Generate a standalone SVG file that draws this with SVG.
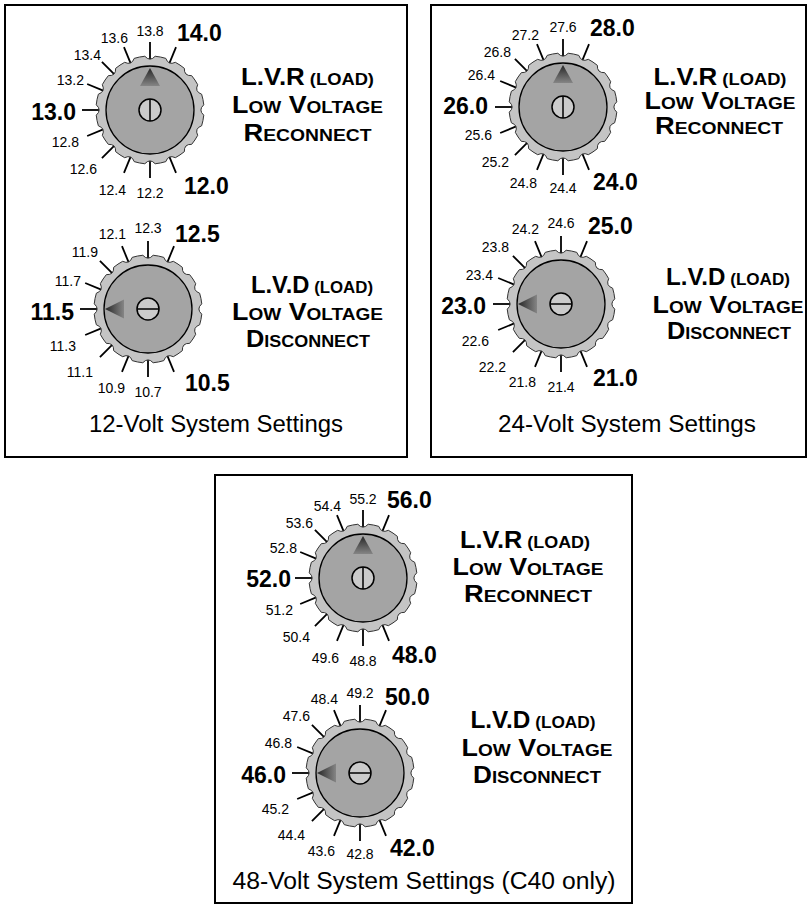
<svg xmlns="http://www.w3.org/2000/svg" xmlns:xlink="http://www.w3.org/1999/xlink" width="811" height="906" viewBox="0 0 811 906">
<style>
.panel{fill:#fff;stroke:#000;stroke-width:2}
.sm{font-family:"Liberation Sans",Arial,sans-serif;font-size:14px;fill:#000}
.bg{font-family:"Liberation Sans",Arial,sans-serif;font-size:23px;font-weight:bold;fill:#000}
.cap{font-family:"Liberation Sans",Arial,sans-serif;font-size:23.5px;fill:#000}
.ttl{font-family:"Liberation Sans",Arial,sans-serif;font-size:24px;font-weight:bold;fill:#000;text-anchor:middle}
.s{font-size:17px}
.e{text-anchor:end}
.m{text-anchor:middle}
.tick{stroke:#000;stroke-width:1.8;fill:none}
.gear{fill:#c4c4c4;stroke:#333;stroke-width:1}
.disk{fill:#a4a4a4;stroke:#000;stroke-width:1.3}
.screw{fill:#cbcbcb;stroke:#000;stroke-width:1.5}
.slot{stroke:#000;stroke-width:1.5}
</style>
<defs>
<linearGradient id="gUp" x1="0" y1="0" x2="0" y2="1"><stop offset="0" stop-color="#262626"/><stop offset="1" stop-color="#858585"/></linearGradient>
<linearGradient id="gLeft" x1="0" y1="0" x2="1" y2="0"><stop offset="0" stop-color="#262626"/><stop offset="1" stop-color="#858585"/></linearGradient>
<g id="ticks" class="tick">
<line x1="19.13" y1="-46.19" x2="26.02" y2="-62.82"/>
<line x1="0" y1="-50" x2="0" y2="-68"/>
<line x1="-19.13" y1="-46.19" x2="-26.02" y2="-62.82"/>
<line x1="-35.36" y1="-35.36" x2="-48.08" y2="-48.08"/>
<line x1="-46.19" y1="-19.13" x2="-62.82" y2="-26.02"/>
<line x1="-50" y1="0" x2="-68" y2="0"/>
<line x1="-46.19" y1="19.13" x2="-62.82" y2="26.02"/>
<line x1="-35.36" y1="35.36" x2="-48.08" y2="48.08"/>
<line x1="-19.13" y1="46.19" x2="-26.02" y2="62.82"/>
<line x1="0" y1="50" x2="0" y2="68"/>
<line x1="19.13" y1="46.19" x2="26.02" y2="62.82"/>
</g>
<g id="face">
<path class="gear" d="M5.18,-53.75 A54,54 0 0 1 15.79,-51.64 Q18.37,-44.35 25.35,-47.68 A54,54 0 0 1 34.35,-41.67 Q33.94,-33.94 41.67,-34.35 A54,54 0 0 1 47.68,-25.35 Q44.35,-18.37 51.64,-15.79 A54,54 0 0 1 53.75,-5.18 Q48,0 53.75,5.18 A54,54 0 0 1 51.64,15.79 Q44.35,18.37 47.68,25.35 A54,54 0 0 1 41.67,34.35 Q33.94,33.94 34.35,41.67 A54,54 0 0 1 25.35,47.68 Q18.37,44.35 15.79,51.64 A54,54 0 0 1 5.18,53.75 Q0,48 -5.18,53.75 A54,54 0 0 1 -15.79,51.64 Q-18.37,44.35 -25.35,47.68 A54,54 0 0 1 -34.35,41.67 Q-33.94,33.94 -41.67,34.35 A54,54 0 0 1 -47.68,25.35 Q-44.35,18.37 -51.64,15.79 A54,54 0 0 1 -53.75,5.18 Q-48,0 -53.75,-5.18 A54,54 0 0 1 -51.64,-15.79 Q-44.35,-18.37 -47.68,-25.35 A54,54 0 0 1 -41.67,-34.35 Q-33.94,-33.94 -34.35,-41.67 A54,54 0 0 1 -25.35,-47.68 Q-18.37,-44.35 -15.79,-51.64 A54,54 0 0 1 -5.18,-53.75 Q0,-48 5.18,-53.75 Z"/>
<circle class="disk" r="44"/>
</g>
<g id="lvrknob">
<use href="#ticks"/>
<use href="#face"/>
<polygon points="0,-42 -10,-24 10,-24" fill="url(#gUp)"/>
<circle class="screw" r="11"/>
<line class="slot" x1="0" y1="-11" x2="0" y2="11"/>
</g>
<g id="lvdknob">
<use href="#ticks"/>
<use href="#face"/>
<polygon points="-43,0 -24,-9.5 -24,9.5" fill="url(#gLeft)"/>
<circle class="screw" r="11"/>
<line class="slot" x1="-11" y1="0" x2="11" y2="0"/>
</g>
</defs>
<rect width="811" height="906" fill="#fff"/>

<g id="panel-12v">
<rect class="panel" x="5" y="5" width="402" height="452"/>
<g id="dial-12v-lvr" transform="translate(150,110)">
<use href="#lvrknob"/>
<text class="bg" x="27" y="-69">14.0</text>
<text class="sm m" x="0" y="-74">13.8</text>
<text class="sm e" x="-22" y="-67">13.6</text>
<text class="sm e" x="-49" y="-50">13.4</text>
<text class="sm e" x="-66" y="-25">13.2</text>
<text class="bg e" x="-74" y="10">13.0</text>
<text class="sm e" x="-71" y="37">12.8</text>
<text class="sm e" x="-53" y="64">12.6</text>
<text class="sm e" x="-24" y="85">12.4</text>
<text class="sm m" x="0" y="88">12.2</text>
<text class="bg" x="34" y="84">12.0</text>
</g>
<g id="label-12v-lvr">
<text class="ttl" x="307.5" y="85" textLength="133" lengthAdjust="spacingAndGlyphs">L.V.R<tspan class="s"> (LOAD)</tspan></text>
<text class="ttl" x="307.5" y="113" textLength="151" lengthAdjust="spacingAndGlyphs">L<tspan class="s">OW</tspan> V<tspan class="s">OLTAGE</tspan></text>
<text class="ttl" x="307.5" y="141" textLength="128" lengthAdjust="spacingAndGlyphs">R<tspan class="s">ECONNECT</tspan></text>
</g>
<g id="dial-12v-lvd" transform="translate(148,309)">
<use href="#lvdknob"/>
<text class="bg" x="27" y="-67">12.5</text>
<text class="sm m" x="0" y="-76">12.3</text>
<text class="sm e" x="-22" y="-70">12.1</text>
<text class="sm e" x="-50" y="-52">11.9</text>
<text class="sm e" x="-67" y="-23">11.7</text>
<text class="bg e" x="-74" y="11">11.5</text>
<text class="sm e" x="-72" y="42">11.3</text>
<text class="sm e" x="-55" y="68">11.1</text>
<text class="sm e" x="-23" y="84">10.9</text>
<text class="sm m" x="0" y="88">10.7</text>
<text class="bg" x="37" y="82">10.5</text>
</g>
<g id="label-12v-lvd">
<text class="ttl" x="312" y="293" textLength="122" lengthAdjust="spacingAndGlyphs">L.V.D<tspan class="s"> (LOAD)</tspan></text>
<text class="ttl" x="307.5" y="320" textLength="151" lengthAdjust="spacingAndGlyphs">L<tspan class="s">OW</tspan> V<tspan class="s">OLTAGE</tspan></text>
<text class="ttl" x="308" y="347" textLength="124" lengthAdjust="spacingAndGlyphs">D<tspan class="s">ISCONNECT</tspan></text>
</g>
<text class="cap m" x="216" y="432" textLength="254" lengthAdjust="spacingAndGlyphs">12-Volt System Settings</text>
</g>

<g id="panel-24v">
<rect class="panel" x="431" y="5" width="375" height="452"/>
<g id="dial-24v-lvr" transform="translate(563,107)">
<use href="#lvrknob"/>
<text class="bg" x="27" y="-71">28.0</text>
<text class="sm m" x="0" y="-75">27.6</text>
<text class="sm e" x="-24" y="-67">27.2</text>
<text class="sm e" x="-52" y="-50">26.8</text>
<text class="sm e" x="-68" y="-27">26.4</text>
<text class="bg e" x="-75" y="7">26.0</text>
<text class="sm e" x="-71" y="33">25.6</text>
<text class="sm e" x="-54" y="60">25.2</text>
<text class="sm e" x="-26" y="81">24.8</text>
<text class="sm m" x="0" y="86">24.4</text>
<text class="bg" x="30" y="83">24.0</text>
</g>
<g id="label-24v-lvr">
<text class="ttl" x="720" y="85" textLength="133" lengthAdjust="spacingAndGlyphs">L.V.R<tspan class="s"> (LOAD)</tspan></text>
<text class="ttl" x="720" y="109" textLength="151" lengthAdjust="spacingAndGlyphs">L<tspan class="s">OW</tspan> V<tspan class="s">OLTAGE</tspan></text>
<text class="ttl" x="719" y="134" textLength="128" lengthAdjust="spacingAndGlyphs">R<tspan class="s">ECONNECT</tspan></text>
</g>
<g id="dial-24v-lvd" transform="translate(561,304)">
<use href="#lvdknob"/>
<text class="bg" x="27" y="-70">25.0</text>
<text class="sm m" x="0" y="-76">24.6</text>
<text class="sm e" x="-22" y="-70">24.2</text>
<text class="sm e" x="-52" y="-52">23.8</text>
<text class="sm e" x="-68" y="-24">23.4</text>
<text class="bg e" x="-75" y="10">23.0</text>
<text class="sm e" x="-72" y="42">22.6</text>
<text class="sm e" x="-55" y="68">22.2</text>
<text class="sm e" x="-25" y="83">21.8</text>
<text class="sm m" x="0" y="88">21.4</text>
<text class="bg" x="32" y="82">21.0</text>
</g>
<g id="label-24v-lvd">
<text class="ttl" x="728" y="285" textLength="124" lengthAdjust="spacingAndGlyphs">L.V.D<tspan class="s"> (LOAD)</tspan></text>
<text class="ttl" x="728" y="313" textLength="151" lengthAdjust="spacingAndGlyphs">L<tspan class="s">OW</tspan> V<tspan class="s">OLTAGE</tspan></text>
<text class="ttl" x="729" y="339" textLength="124" lengthAdjust="spacingAndGlyphs">D<tspan class="s">ISCONNECT</tspan></text>
</g>
<text class="cap m" x="627" y="432" textLength="258" lengthAdjust="spacingAndGlyphs">24-Volt System Settings</text>
</g>

<g id="panel-48v">
<rect class="panel" x="215" y="475" width="417" height="428"/>
<g id="dial-48v-lvr" transform="translate(363,578)">
<use href="#lvrknob"/>
<text class="bg" x="24" y="-70">56.0</text>
<text class="sm m" x="0" y="-74">55.2</text>
<text class="sm e" x="-22" y="-67">54.4</text>
<text class="sm e" x="-50" y="-50">53.6</text>
<text class="sm e" x="-66" y="-25">52.8</text>
<text class="bg e" x="-72" y="9">52.0</text>
<text class="sm e" x="-70" y="37">51.2</text>
<text class="sm e" x="-53" y="64">50.4</text>
<text class="sm e" x="-24" y="85">49.6</text>
<text class="sm m" x="0" y="88">48.8</text>
<text class="bg" x="29" y="85">48.0</text>
</g>
<g id="label-48v-lvr">
<text class="ttl" x="525" y="548" textLength="130" lengthAdjust="spacingAndGlyphs">L.V.R<tspan class="s"> (LOAD)</tspan></text>
<text class="ttl" x="528" y="575" textLength="151" lengthAdjust="spacingAndGlyphs">L<tspan class="s">OW</tspan> V<tspan class="s">OLTAGE</tspan></text>
<text class="ttl" x="528" y="602" textLength="128" lengthAdjust="spacingAndGlyphs">R<tspan class="s">ECONNECT</tspan></text>
</g>
<g id="dial-48v-lvd" transform="translate(360,773)">
<use href="#lvdknob"/>
<text class="bg" x="25" y="-68">50.0</text>
<text class="sm m" x="0" y="-75">49.2</text>
<text class="sm e" x="-22" y="-69">48.4</text>
<text class="sm e" x="-50" y="-52">47.6</text>
<text class="sm e" x="-68" y="-25">46.8</text>
<text class="bg e" x="-74" y="10">46.0</text>
<text class="sm e" x="-71" y="41">45.2</text>
<text class="sm e" x="-55" y="67">44.4</text>
<text class="sm e" x="-25" y="83">43.6</text>
<text class="sm m" x="0" y="86">42.8</text>
<text class="bg" x="30" y="83">42.0</text>
</g>
<g id="label-48v-lvd">
<text class="ttl" x="533" y="728" textLength="125" lengthAdjust="spacingAndGlyphs">L.V.D<tspan class="s"> (LOAD)</tspan></text>
<text class="ttl" x="537" y="756" textLength="151" lengthAdjust="spacingAndGlyphs">L<tspan class="s">OW</tspan> V<tspan class="s">OLTAGE</tspan></text>
<text class="ttl" x="537" y="783" textLength="128" lengthAdjust="spacingAndGlyphs">D<tspan class="s">ISCONNECT</tspan></text>
</g>
<text class="cap m" x="424" y="889" textLength="383" lengthAdjust="spacingAndGlyphs">48-Volt System Settings (C40 only)</text>
</g>
</svg>
